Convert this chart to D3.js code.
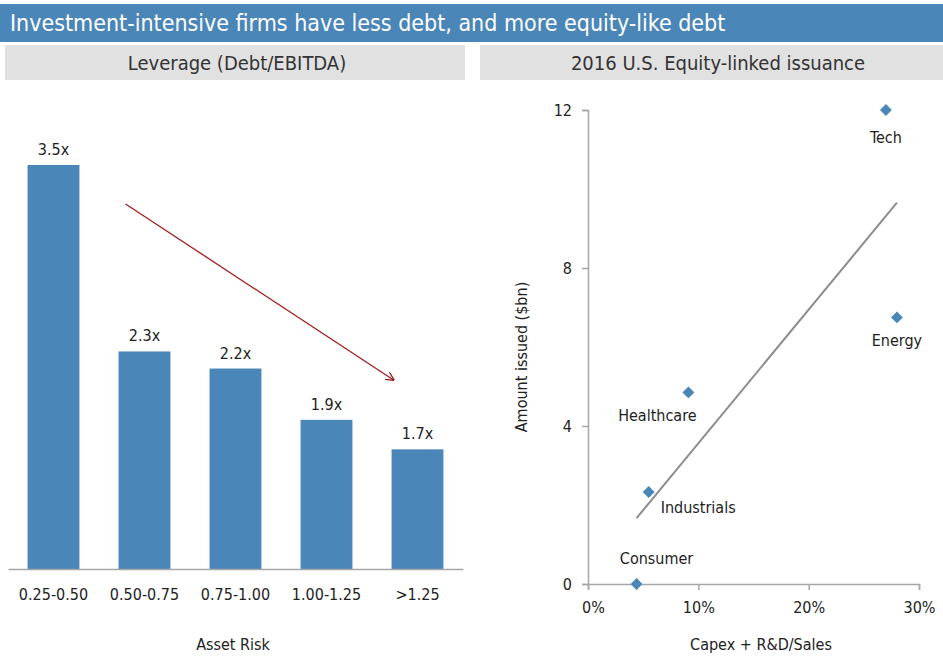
<!DOCTYPE html>
<meta charset="utf-8">
<html>
<head>
<script src="https://d3js.org/d3.v7.min.js"></script>
<style>
  body { margin: 0; background: #fff; }
  svg text { font-family: "Liberation Sans Narrow", "DejaVu Sans Condensed", "Roboto Condensed", sans-serif; fill: #222; }
</style>
</head>
<body>
<svg width="943" height="657"></svg>
<script>

// left panel: leverage by asset risk bucket (bar heights as drawn; labels round to 1dp)
var riskBuckets = ["0.25-0.50", "0.50-0.75", "0.75-1.00", "1.00-1.25", ">1.25"];
var leverage = [3.5, 2.3, 2.19, 1.86, 1.67];

// right panel: equity-linked issuance by sector
var sectors = ["Tech", "Energy", "Healthcare", "Industrials", "Consumer"];
var capexShare = [0.27, 0.28, 0.091, 0.055, 0.044];
var issuedBn = [12, 6.75, 4.85, 2.33, 0];
var yTicks = [0, 4, 8, 12];
var xTicks = [0, 0.1, 0.2, 0.3];

var blue = "#4a86b8",
    grey = "#e1e1e1",
    axisGrey = "#a6a6a6";

var svg = d3.select("svg");

// header bars
svg.append("rect").attr("x", 0).attr("y", 4).attr("width", 943).attr("height", 38).attr("fill", blue);
svg.append("text").attr("x", 10).attr("y", 31)
    .style("font-size", "23px").style("fill", "#fff")
    .text("Investment-intensive firms have less debt, and more equity-like debt");

svg.append("rect").attr("x", 5).attr("y", 45).attr("width", 460).attr("height", 35).attr("fill", grey);
svg.append("rect").attr("x", 480).attr("y", 45).attr("width", 463).attr("height", 35).attr("fill", grey);
svg.append("text").attr("x", 237).attr("y", 70).attr("text-anchor", "middle")
    .style("font-size", "20px").style("fill", "#333").text("Leverage (Debt/EBITDA)");
svg.append("text").attr("x", 718).attr("y", 70).attr("text-anchor", "middle")
    .style("font-size", "20px").style("fill", "#333").text("2016 U.S. Equity-linked issuance");

// ---- bar chart ----
var x = d3.scaleBand()
    .domain(riskBuckets)
    .range([8, 463])
    .paddingInner(0.43)
    .paddingOuter(0.215);

var y = d3.scaleLinear()
    .domain([0.9, 3.5])
    .range([569, 165]);

var bars = svg.append("g");
bars.selectAll("rect")
  .data(leverage)
  .enter().append("rect")
    .attr("x", function(d, i) { return x(riskBuckets[i]); })
    .attr("y", function(d) { return y(d); })
    .attr("width", x.bandwidth())
    .attr("height", function(d) { return y(0.9) - y(d); })
    .attr("fill", blue);

bars.selectAll("text")
  .data(leverage)
  .enter().append("text")
    .attr("x", function(d, i) { return x(riskBuckets[i]) + x.bandwidth() / 2; })
    .attr("y", function(d) { return y(d) - 10; })
    .attr("text-anchor", "middle")
    .style("font-size", "16px")
    .text(function(d) { return d.toFixed(1) + "x"; });

var xAxis = svg.append("g")
    .attr("transform", "translate(0," + y(0.9) + ")")
    .call(d3.axisBottom(x).tickSize(0).tickPadding(20));
xAxis.select(".domain").attr("stroke", axisGrey).attr("stroke-width", 1.5);
xAxis.selectAll("text").style("font-size", "16px").attr("fill", "#222");

svg.append("text").attr("x", 233).attr("y", 650).attr("text-anchor", "middle")
    .style("font-size", "16px").text("Asset Risk");

// red trend arrow
svg.append("defs").append("marker")
    .attr("id", "arrowhead")
    .attr("viewBox", "0 0 10 10")
    .attr("refX", 9).attr("refY", 5)
    .attr("markerWidth", 7).attr("markerHeight", 7)
    .attr("orient", "auto")
  .append("path")
    .attr("d", "M0,0 L10,5 L0,10")
    .attr("fill", "none")
    .attr("stroke", "#a11c1c")
    .attr("stroke-width", 1.5);

svg.append("line")
    .attr("x1", x(riskBuckets[1]) + 7).attr("y1", 204)
    .attr("x2", x(riskBuckets[4]) + 2).attr("y2", 380)
    .attr("stroke", "#a11c1c")
    .attr("stroke-width", 1.3)
    .attr("marker-end", "url(#arrowhead)");

// ---- scatter ----
var sx = d3.scaleLinear().domain([0, 0.3]).range([588, 919]);
var sy = d3.scaleLinear().domain([0, 12]).range([584, 110]);

var gy = svg.append("g")
    .attr("transform", "translate(588,0)")
    .call(d3.axisLeft(sy).tickValues(yTicks).tickSize(6).tickPadding(10));
var gx = svg.append("g")
    .attr("transform", "translate(0,584)")
    .call(d3.axisBottom(sx).tickValues(xTicks).tickSize(6).tickPadding(12).tickFormat(d3.format(".0%")));
[gx, gy].forEach(function(g) {
  g.select(".domain").attr("stroke", axisGrey).attr("stroke-width", 1.5);
  g.selectAll(".tick line").attr("stroke", axisGrey).attr("stroke-width", 1.5);
  g.selectAll("text").style("font-size", "16px").attr("fill", "#222");
});
gx.selectAll(".tick text").attr("dx", function(d, i) { return i === 0 ? 5 : 0; });

svg.append("text")
    .attr("transform", "translate(527,357) rotate(-90)")
    .attr("text-anchor", "middle")
    .style("font-size", "16px").text("Amount issued ($bn)");
svg.append("text").attr("x", 761).attr("y", 650).attr("text-anchor", "middle")
    .style("font-size", "16px").text("Capex + R&D/Sales");

// least-squares trend line through the points
var mx = d3.mean(capexShare), my = d3.mean(issuedBn);
var sxy = d3.sum(capexShare, function(v, i) { return (v - mx) * (issuedBn[i] - my); });
var sxx = d3.sum(capexShare, function(v) { return (v - mx) * (v - mx); });
var slope = sxy / sxx, icpt = my - slope * mx;
var xr = d3.extent(capexShare);

svg.append("line")
    .attr("x1", sx(xr[0])).attr("y1", sy(icpt + slope * xr[0]))
    .attr("x2", sx(xr[1])).attr("y2", sy(icpt + slope * xr[1]))
    .attr("stroke", "#8c8c8c")
    .attr("stroke-width", 2);

svg.append("g").selectAll("path")
  .data(sectors)
  .enter().append("path")
    .attr("d", d3.symbol(d3.symbolDiamond2, 90))
    .attr("transform", function(d, i) { return "translate(" + sx(capexShare[i]) + "," + sy(issuedBn[i]) + ")"; })
    .attr("fill", blue);

// label offsets relative to each point (dx, dy, anchor)
var labelPos = {
  "Tech": [0, 33, "middle"],
  "Energy": [0, 29, "middle"],
  "Healthcare": [-31, 29, "middle"],
  "Industrials": [12, 21, "start"],
  "Consumer": [20, -20, "middle"]
};
svg.append("g").selectAll("text")
  .data(sectors)
  .enter().append("text")
    .attr("x", function(d, i) { return sx(capexShare[i]) + labelPos[d][0]; })
    .attr("y", function(d, i) { return sy(issuedBn[i]) + labelPos[d][1]; })
    .attr("text-anchor", function(d) { return labelPos[d][2]; })
    .style("font-size", "16px")
    .text(function(d) { return d; });

</script>
</body>
</html>
